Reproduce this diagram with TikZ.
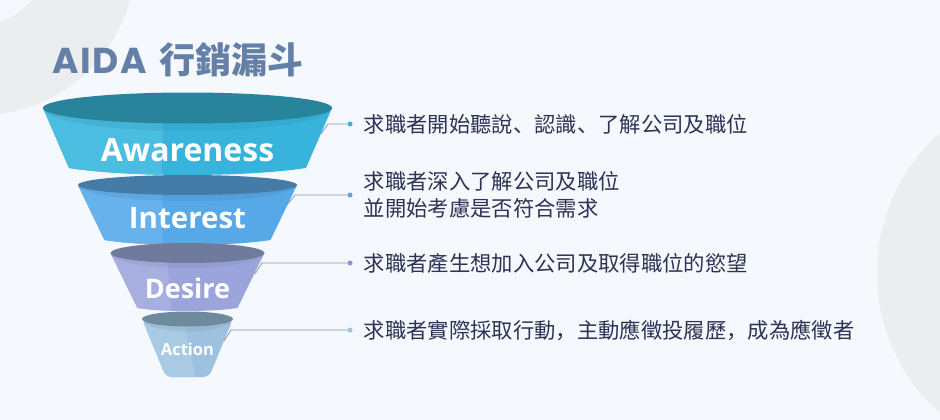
\documentclass[tikz,border=0pt]{standalone}
\usepackage{fontspec}
\usepackage{xcolor}
\usetikzlibrary{positioning}
\newfontfamily\cjkfont{Noto Sans CJK SC}
\newfontfamily\stagefont{Open Sans}
\newfontfamily\headfont{Poppins}[LetterSpace=5]
\definecolor{bgcol}{HTML}{F5F8FC}
\definecolor{blobcol}{HTML}{ECEDEF}
\definecolor{titlecol}{HTML}{6580A6}
\definecolor{textcol}{HTML}{2D3355}
\definecolor{linecol}{HTML}{8E9AAB}
\definecolor{awareL}{HTML}{4BBDE0}
\definecolor{awareR}{HTML}{38B4DC}
\definecolor{awareD}{HTML}{27849B}
\definecolor{interL}{HTML}{67B1EC}
\definecolor{interR}{HTML}{57A8E7}
\definecolor{interD}{HTML}{457BA7}
\definecolor{desireL}{HTML}{A7AFE0}
\definecolor{desireR}{HTML}{9BA5DC}
\definecolor{desireD}{HTML}{6F7A9D}
\definecolor{actionL}{HTML}{A9CAE3}
\definecolor{actionR}{HTML}{9DC1DF}
\definecolor{actionD}{HTML}{6E8B9D}

\begin{document}
\begin{tikzpicture}[
    x=1pt, y=-1pt,
    every node/.style={inner sep=0pt},
    stage/.style={font=\stagefont\bfseries\fontsize{#1}{#1}\selectfont, text=white},
    desc/.style={font=\cjkfont\fontsize{21.33}{27}\selectfont, text=textcol, align=left, anchor=west},
    link/.style={draw=linecol, line width=0.8pt},
    dot/.style={circle, minimum size=5pt, inner sep=0pt},
    rim/.style={opacity=0.18}
]

% background and the two grey blobs
\fill[bgcol] (0,0) rectangle (940,420);
\begin{scope}
\clip (0,0) rectangle (940,420);
\draw[blobcol, line width=90pt] (-20,-40) circle[radius=110];
\fill[blobcol] (1064,273) circle[radius=187];
\end{scope}

\node[anchor=west, text=titlecol, font=\fontsize{36}{36}\selectfont\bfseries] (title) at (52,60)
    {{\headfont AIDA}\hspace{12pt}{\cjkfont 行銷漏斗}};

% awareness
\fill[awareR, path picture={
    \fill[awareL] (30,80) -- (165,80) -- (161,200) -- (30,200) -- cycle;
    \fill[awareD, rim] (187.5,108) ellipse [x radius=144.5, y radius=23];
}] (43,108) -- (69,168) .. controls (128,177.3) and (247,177.3) .. (306,168) -- (332,108) -- cycle;
\fill[awareD] (187.5,108) ellipse [x radius=144.5, y radius=15.5];
\node[stage=32] (aware) at (187.5,150) {Awareness};

% interest
\fill[interR, path picture={
    \fill[interL] (60,160) -- (161,160) -- (163,260) -- (60,260) -- cycle;
    \fill[interD, rim] (187.5,185) ellipse [x radius=109.5, y radius=16];
}] (78,185) -- (104.5,240) .. controls (146,246.7) and (229,246.7) .. (270.5,240) -- (297,185) -- cycle;
\fill[interD] (187.5,185) ellipse [x radius=109.5, y radius=10];
\node[stage=29.5] (inter) at (187.5,218) {Interest};

% desire
\fill[desireR, path picture={
    \fill[desireL] (100,230) -- (165,230) -- (172,320) -- (100,320) -- cycle;
    \fill[desireD, rim] (187.5,253) ellipse [x radius=77, y radius=15];
}] (110.5,253) -- (137.5,308) .. controls (162.5,312) and (212.5,312) .. (237.5,308) -- (264.5,253) -- cycle;
\fill[desireD] (187.5,253) ellipse [x radius=77, y radius=10];
\node[stage=27] (desire) at (187.5,288) {Desire};

% action
\fill[actionR, rounded corners=6pt, path picture={
    \fill[actionL] (130,300) -- (180,300) -- (198,390) -- (130,390) -- cycle;
    \fill[actionD, rim] (187.5,319) ellipse [x radius=45.5, y radius=12.5];
}] (142,319) -- (166,377) -- (209,377) -- (233,319) -- cycle;
\fill[actionD] (187.5,319) ellipse [x radius=45.5, y radius=7.5];
\node[stage=16.5] (action) at (187.5,349) {Action};

% connectors
\coordinate (aware-out) at (321,134);
\coordinate (inter-out) at (287,205);
\coordinate (desire-out) at (255,274);
\coordinate (action-out) at (224,341);
\node[dot, fill=awareR] (aware-dot) at (350,124) {};
\node[dot, fill=interR] (inter-dot) at (350,195) {};
\node[dot, fill=desireR!90!black] (desire-dot) at (350,263) {};
\node[dot, fill=actionR] (action-dot) at (350,330) {};
\draw[link] (aware-out) -- ++(7,-10) -- (aware-dot);
\draw[link] (inter-out) -- ++(8,-10) -- (inter-dot);
\draw[link] (desire-out) -- ++(7,-11) -- (desire-dot);
\draw[link] (action-out) -- ++(7,-11) -- (action-dot);

% descriptions
\node[desc, right=11pt of aware-dot] (aware-text) {求職者開始聽說、認識、了解公司及職位};
\node[desc, right=11pt of inter-dot] (inter-text) {求職者深入了解公司及職位\\並開始考慮是否符合需求};
\node[desc, right=11pt of desire-dot] (desire-text) {求職者產生想加入公司及取得職位的慾望};
\node[desc, right=11pt of action-dot] (action-text) {求職者實際採取行動，主動應徵投履歷，成為應徵者};

\end{tikzpicture}
\end{document}
